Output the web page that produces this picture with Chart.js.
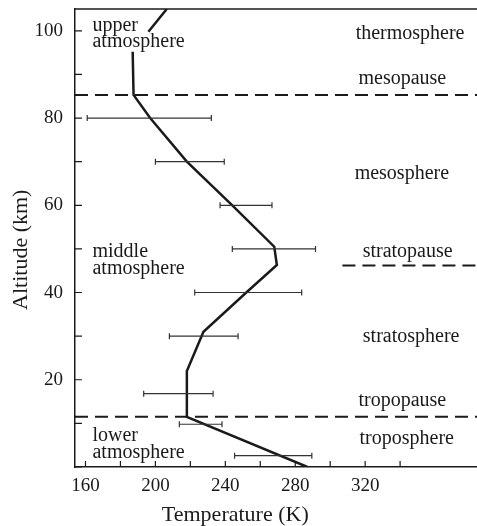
<!DOCTYPE html>
<html>
<head>
<meta charset="utf-8">
<script src="https://cdn.jsdelivr.net/npm/chart.js@4"></script>
<style>
  html, body { margin: 0; padding: 0; background: #fff; }
  #wrap { width: 477px; height: 526px; }
</style>
</head>
<body>
<div id="wrap"><canvas id="atmosChart"></canvas></div>
<script>
// Temperature profile (K) against altitude (km)
const profileTemp = [287, 218, 218, 227.5, 252, 269.5, 268, 244, 218, 197, 187.5, 187];
const profileAlt  = [0, 11.5, 22, 31, 40, 46.3, 50.5, 60, 70, 80, 85.3, 95.2];

// short piece of the profile above the "upper atmosphere" label
const upperTemp = [196, 206.5];
const upperAlt  = [99.8, 105];

// horizontal error bars: altitude, lower and upper temperature
const errAlt  = [80, 70, 60, 50, 40, 30, 16.8, 9.8, 2.6];
const errLow  = [161, 200, 237, 244, 222.5, 208, 193.3, 213.7, 245.3];
const errHigh = [232, 239.4, 266.7, 291.6, 283.7, 247.3, 233, 238.1, 289.5];

// boundary levels (km) and where each dashed line starts (K)
const pauseNames = ['mesopause', 'stratopause', 'tropopause'];
const pauseAlt   = [85.3, 46.2, 11.5];
const pauseFrom  = [154, 307, 154];

// axis ticks
const xTicks = [160, 180, 200, 220, 240, 260, 280, 300, 320, 340];
const yTicks = [0, 10, 20, 30, 40, 50, 60, 70, 80, 90, 100];

const INK = '#1a1a1a';
const SERIF = '"Liberation Serif", "DejaVu Serif", serif';

// region labels, placed in data units [text, T, alt, align]
const regionLabels = [
    ['upper', 164, 100, 'left'],
    ['atmosphere', 164, 96.3, 'left'],
    ['middle', 164, 48.1, 'left'],
    ['atmosphere', 164, 44.3, 'left'],
    ['lower', 164, 6.0, 'left'],
    ['atmosphere', 164, 2.0, 'left'],
    ['thermosphere', 345.7, 98.2, 'center'],
    ['mesopause', 341.3, 87.8, 'center'],
    ['mesosphere', 341, 66, 'center'],
    ['stratopause', 344.3, 48.2, 'center'],
    ['stratosphere', 346.3, 28.7, 'center'],
    ['tropopause', 341.3, 14, 'center'],
    ['troposphere', 343.8, 5.2, 'center']
];

function toPoints(xs, ys) {
    return xs.map((v, i) => ({ x: v, y: ys[i] }));
}

// Draws frame top, inward ticks, error bars, region labels and axis titles
const decorations = {
    id: 'decorations',
    afterDatasetsDraw(chart) {
        const { ctx, chartArea: a, scales: { x, y } } = chart;
        ctx.save();
        ctx.strokeStyle = INK;
        ctx.lineWidth = 1.5;

        // top border
        ctx.beginPath();
        ctx.moveTo(a.left, a.top);
        ctx.lineTo(a.right, a.top);
        ctx.stroke();

        // inward ticks
        ctx.lineWidth = 1.2;
        ctx.beginPath();
        x.ticks.forEach(t => {
            const px = x.getPixelForValue(t.value);
            ctx.moveTo(px, a.bottom);
            ctx.lineTo(px, a.bottom - 6);
        });
        y.ticks.forEach(t => {
            const py = y.getPixelForValue(t.value);
            ctx.moveTo(a.left, py);
            ctx.lineTo(a.left + 7, py);
        });
        ctx.stroke();

        // error bars
        ctx.lineWidth = 1.2;
        ctx.strokeStyle = '#333';
        ctx.beginPath();
        errAlt.forEach((alt, i) => {
            const py = y.getPixelForValue(alt);
            const x0 = x.getPixelForValue(errLow[i]);
            const x1 = x.getPixelForValue(errHigh[i]);
            ctx.moveTo(x0, py);
            ctx.lineTo(x1, py);
            ctx.moveTo(x0, py - 3);
            ctx.lineTo(x0, py + 3);
            ctx.moveTo(x1, py - 3);
            ctx.lineTo(x1, py + 3);
        });
        ctx.stroke();

        // region labels
        ctx.fillStyle = INK;
        ctx.font = '20px ' + SERIF;
        ctx.textBaseline = 'alphabetic';
        regionLabels.forEach(([text, t, alt, align]) => {
            ctx.textAlign = align;
            ctx.fillText(text, x.getPixelForValue(t), y.getPixelForValue(alt));
        });

        // axis titles
        ctx.font = '22px ' + SERIF;
        ctx.textAlign = 'center';
        ctx.fillText('Temperature (K)', x.getPixelForValue(245.7), 521);
        ctx.save();
        ctx.translate(27, y.getPixelForValue(49.8));
        ctx.rotate(-Math.PI / 2);
        ctx.fillText('Altitude (km)', 0, 0);
        ctx.restore();

        ctx.restore();
    }
};

function main() {
    const ctx = document.getElementById('atmosChart').getContext('2d');

    const datasets = [
        {
            data: toPoints(profileTemp, profileAlt),
            borderColor: INK,
            borderWidth: 2.5
        },
        {
            data: toPoints(upperTemp, upperAlt),
            borderColor: INK,
            borderWidth: 2.5
        }
    ];
    pauseNames.forEach((name, i) => {
        datasets.push({
            label: name,
            data: [{ x: pauseFrom[i], y: pauseAlt[i] }, { x: 384, y: pauseAlt[i] }],
            borderColor: INK,
            borderWidth: 2,
            borderDash: [13, 7]
        });
    });

    new Chart(ctx, {
        type: 'line',
        data: { datasets: datasets },
        options: {
            responsive: false,
            animation: false,
            devicePixelRatio: 1,
            layout: { padding: { top: 9, right: 0, left: 0, bottom: 0 } },
            elements: {
                point: { radius: 0 },
                line: { tension: 0, fill: false }
            },
            plugins: {
                legend: { display: false },
                tooltip: { enabled: false }
            },
            scales: {
                x: {
                    type: 'linear',
                    min: 154,
                    max: 384,
                    afterBuildTicks: scale => {
                        scale.ticks = xTicks.map(v => ({ value: v }));
                    },
                    afterFit: scale => {
                        scale.height = 59;
                        scale.paddingLeft = 0;
                        scale.paddingRight = 0;
                    },
                    grid: { display: true, drawOnChartArea: false, drawTicks: false },
                    border: { display: true, color: INK, width: 1.5 },
                    ticks: {
                        padding: 8,
                        color: INK,
                        maxRotation: 0,
                        font: { family: SERIF, size: 19 },
                        callback: v => (v % 40 === 0 && v <= 320 ? String(v) : '')
                    }
                },
                y: {
                    type: 'linear',
                    min: 0,
                    max: 105,
                    afterBuildTicks: scale => {
                        scale.ticks = yTicks.map(v => ({ value: v }));
                    },
                    afterFit: scale => {
                        scale.width = 75;
                        scale.paddingTop = 0;
                        scale.paddingBottom = 0;
                    },
                    grid: { display: true, drawOnChartArea: false, drawTicks: false },
                    border: { display: true, color: INK, width: 1.5 },
                    ticks: {
                        padding: 12,
                        color: INK,
                        font: { family: SERIF, size: 19 },
                        callback: v => (v % 20 === 0 && v > 0 ? String(v) : '')
                    }
                }
            }
        },
        plugins: [decorations]
    });
}

document.getElementById('atmosChart').width = 477;
document.getElementById('atmosChart').height = 526;
main();
</script>
</body>
</html>
